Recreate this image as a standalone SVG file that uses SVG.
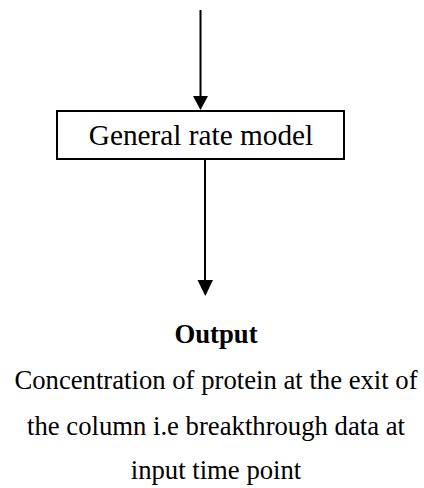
<svg xmlns="http://www.w3.org/2000/svg" width="424" height="488" viewBox="0 0 424 488">
  <defs>
    <style>
      .box { fill: #ffffff; stroke: #000000; stroke-width: 2; }
      .edge { stroke: #000000; stroke-width: 2; fill: none; }
      .head { fill: #000000; stroke: none; }
      .txt { font-family: "Liberation Serif", "Times New Roman", serif; fill: #000000; text-anchor: middle; }
      .label { font-size: 29.3px; }
      .body { font-size: 26.7px; }
      .title { font-size: 26.7px; font-weight: bold; }
    </style>
  </defs>
  <rect width="424" height="488" fill="#ffffff"/>

  <!-- connectors -->
  <g id="connectors">
    <line class="edge" x1="200.5" y1="10" x2="200.5" y2="98"/>
    <polygon class="head" points="193,96 208,96 200.5,110"/>
    <line class="edge" x1="205" y1="160" x2="205" y2="282"/>
    <polygon class="head" points="197.5,280 213,280 205.3,296"/>
  </g>

  <!-- model node -->
  <g id="general-rate-model">
    <rect class="box" x="57" y="111" width="287" height="48"/>
    <text class="txt label" x="201" y="145">General rate model</text>
  </g>

  <!-- output node -->
  <g id="output">
    <text class="txt title" x="216" y="343">Output</text>
    <text class="txt body" x="216" y="389">Concentration of protein at the exit of</text>
    <text class="txt body" x="216" y="435">the column i.e breakthrough data at</text>
    <text class="txt body" x="216" y="479">input time point</text>
  </g>
</svg>
